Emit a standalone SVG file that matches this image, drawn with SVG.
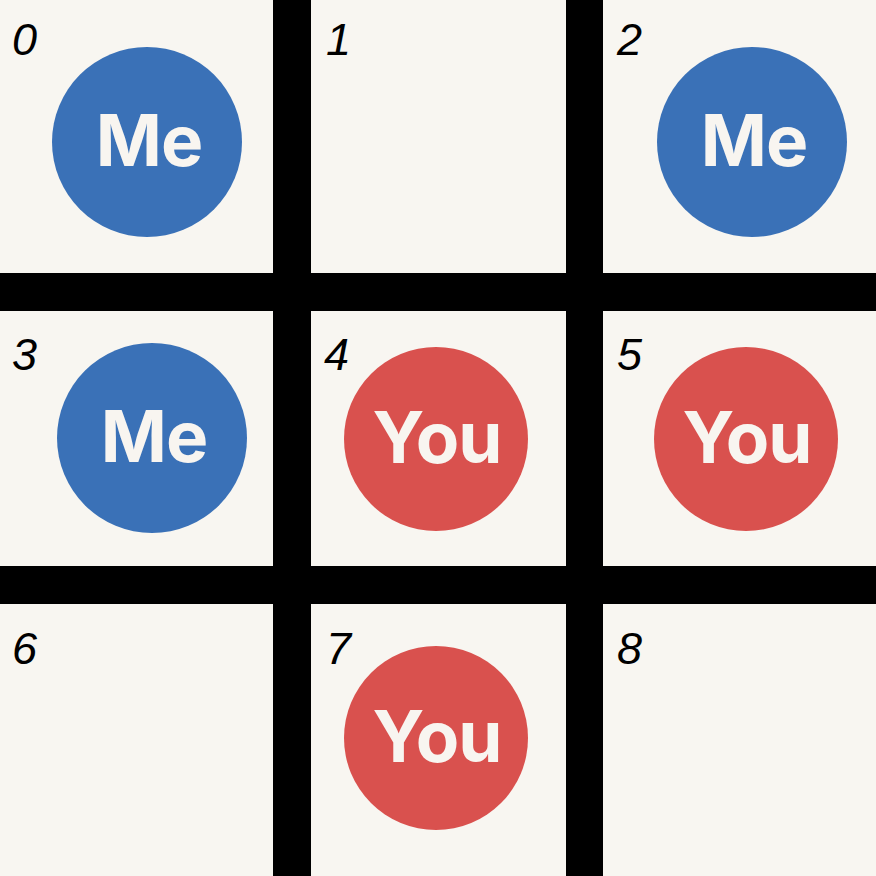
<svg xmlns="http://www.w3.org/2000/svg" width="876" height="876" viewBox="0 0 876 876">
<style>
.bg{fill:#f8f6f1}
.bar{fill:#000}
.me{fill:#3a71b7}
.you{fill:#d9514e}
.mark{font-family:Inter,"Liberation Sans",sans-serif;font-weight:700;font-size:71px;fill:#f8f5f0;text-anchor:middle;letter-spacing:-1px}
.idx{font-family:"Liberation Sans",Arial,sans-serif;font-style:italic;font-size:45px;fill:#000}
</style>
<rect class="bg" x="0" y="0" width="876" height="876"/>
<g id="grid">
<rect class="bar" x="273" y="0" width="38" height="876"/>
<rect class="bar" x="566" y="0" width="37" height="876"/>
<rect class="bar" x="0" y="273" width="876" height="38"/>
<rect class="bar" x="0" y="566" width="876" height="38"/>
</g>
<g id="cell0"><text class="idx" x="12" y="55">0</text><circle class="me" cx="147" cy="142" r="95"/><text class="mark" x="149" y="166">Me</text></g>
<g id="cell1"><text class="idx" x="326" y="55">1</text></g>
<g id="cell2"><text class="idx" x="617" y="55">2</text><circle class="me" cx="752" cy="142" r="95"/><text class="mark" x="754" y="166">Me</text></g>
<g id="cell3"><text class="idx" x="12" y="370">3</text><circle class="me" cx="152" cy="438" r="95"/><text class="mark" x="154" y="462">Me</text></g>
<g id="cell4"><text class="idx" x="324" y="370">4</text><circle class="you" cx="436" cy="439" r="92"/><text class="mark" x="437" y="463">You</text></g>
<g id="cell5"><text class="idx" x="617" y="370">5</text><circle class="you" cx="746" cy="439" r="92"/><text class="mark" x="747" y="463">You</text></g>
<g id="cell6"><text class="idx" x="12" y="664">6</text></g>
<g id="cell7"><text class="idx" x="326" y="664">7</text><circle class="you" cx="436" cy="738" r="92"/><text class="mark" x="437" y="762">You</text></g>
<g id="cell8"><text class="idx" x="617" y="664">8</text></g>
</svg>
